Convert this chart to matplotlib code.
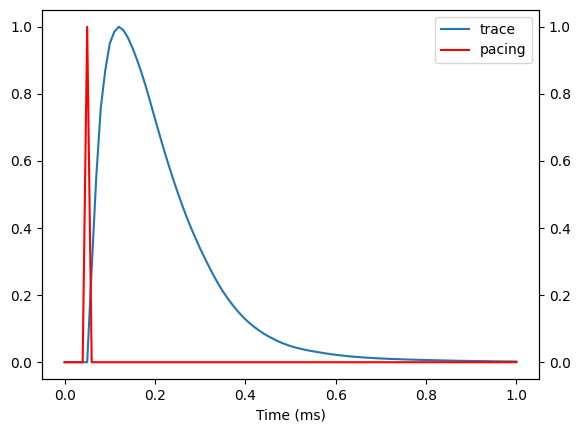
import numpy as np
import matplotlib
matplotlib.use("Agg")
import matplotlib.pyplot as plt

time_ms = [round(i * 0.01, 2) for i in range(101)]

trace = [
    0.0, 0.0, 0.0, 0.0, 0.0, 0.0, 0.28, 0.55, 0.757, 0.87,
    0.95, 0.985, 1.0, 0.99, 0.968, 0.938, 0.903, 0.864, 0.821, 0.774,
    0.726, 0.679, 0.633, 0.589, 0.547, 0.507, 0.469, 0.433, 0.400, 0.369,
    0.339, 0.311, 0.284, 0.258, 0.234, 0.212, 0.192, 0.174, 0.157, 0.142,
    0.128, 0.116, 0.105, 0.095, 0.086, 0.078, 0.071, 0.064, 0.058, 0.053,
    0.048, 0.0443, 0.0409, 0.0378, 0.0350, 0.0325, 0.0302, 0.0280, 0.0259, 0.0239,
    0.0221, 0.0205, 0.0190, 0.0177, 0.0165, 0.0154, 0.0144, 0.0135, 0.0127, 0.0119,
    0.0112, 0.0106, 0.0100, 0.0095, 0.0090, 0.0085, 0.0081, 0.0077, 0.0073, 0.0069,
    0.0066, 0.0062, 0.0059, 0.0056, 0.0053, 0.0050, 0.0047, 0.0044, 0.0042, 0.0040,
    0.0038, 0.0036, 0.0034, 0.0032, 0.0030, 0.0028, 0.0027, 0.0025, 0.0024, 0.0022,
    0.0021,
]

pacing = [0.0] * 5 + [1.0] + [0.0] * 95

fig = plt.figure(figsize=(5.79, 4.33), dpi=100)
ax = fig.add_axes([42 / 579, (433 - 379) / 433, 497 / 579, 369 / 433])
ax2 = ax.twinx()

l1, = ax.plot(time_ms, trace, color="#1f77b4", label="trace")
l2, = ax2.plot(time_ms, pacing, color="red", label="pacing")

ax.set_xlabel("Time (ms)")
ax.set_ylim(-0.05, 1.05)
ax2.set_ylim(-0.05, 1.05)
ax.set_xlim(-0.05, 1.05)

ax2.legend(handles=[l1, l2], loc="upper right")

fig.savefig("out.png", dpi=100)
